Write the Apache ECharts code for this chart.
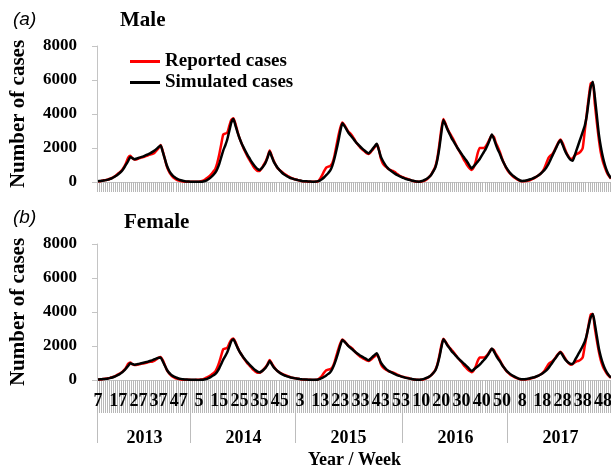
<!DOCTYPE html>
<html lang="en">
<head>
    <meta charset="UTF-8">
    <title>Male / Female cases</title>
    <style>
        html, body { margin: 0; padding: 0; background: #fff; }
    </style>
</head>
<body>
<div id="main" style="width:611px;height:469px;"></div>
<script src="https://cdn.jsdelivr.net/npm/echarts@6.0.0/dist/echarts.min.js"></script>
<script>
    // weeks: 2013 starts at week 7
    var years = ['2013', '2014', '2015', '2016', '2017'];
    var weeksPerYear = [52, 52, 53, 52, 52];
    var firstWeek = 7;

    // male, simulated (black)
    var simMale = [
        50, 60, 70, 90, 110, 140, 180, 230, 300, 370,
        460, 560, 680, 850, 1050, 1250, 1470, 1400, 1340, 1370,
        1410, 1450, 1490, 1540, 1590, 1640, 1700, 1770, 1850, 1950,
        2060, 2150, 1800, 1400, 1000, 720, 520, 380, 280, 200,
        140, 100, 70, 50, 35, 25, 20, 15, 12, 10,
        10, 15, 30, 60, 110, 190, 290, 400, 540, 750,
        1050, 1450, 1850, 2150, 2500, 3000, 3500, 3700, 3350, 2950,
        2600, 2300, 2050, 1820, 1600, 1400, 1200, 1030, 880, 760,
        700, 800, 950, 1150, 1450, 1800, 1500, 1200, 1000, 820,
        680, 560, 460, 380, 310, 250, 210, 170, 140, 110,
        85, 65, 50, 40, 30, 25, 20, 20, 25, 50,
        100, 180, 280, 400, 530, 680, 950, 1350, 1850, 2400,
        3000, 3450, 3300, 3100, 2900, 2750, 2600, 2450, 2300, 2180,
        2060, 1950, 1850, 1750, 1680, 1800, 1950, 2100, 2250, 1900,
        1500, 1250, 1050, 880, 760, 660, 570, 490, 420, 360,
        300, 250, 200, 160, 130, 100, 70, 45, 25, 20,
        40, 80, 140, 210, 300, 430, 620, 850, 1300, 2000,
        2900, 3650, 3400, 3100, 2850, 2600, 2400, 2200, 2000, 1820,
        1650, 1480, 1320, 1150, 950, 800, 920, 1050, 1200, 1350,
        1550, 1750, 1950, 2200, 2500, 2800, 2550, 2200, 1900, 1650,
        1350, 1100, 880, 700, 540, 420, 320, 230, 150, 90,
        60, 70, 90, 120, 160, 200, 250, 310, 380, 470,
        580, 700, 850, 1050, 1300, 1550, 1800, 2050, 2300, 2450,
        2200, 1900, 1650, 1450, 1300, 1250, 1550, 1900, 2250, 2600,
        2950, 3300, 3900, 4800, 5600, 5900, 5000, 3900, 2800, 2050,
        1450, 1000, 650, 400, 220
    ];

    // male, reported (red)
    var repMale = [
        40, 50, 70, 100, 120, 150, 190, 240, 310, 400,
        500, 600, 720, 900, 1150, 1450, 1550, 1400, 1330, 1330,
        1380, 1420, 1460, 1480, 1530, 1590, 1620, 1650, 1720, 1850,
        2000, 2180, 1850, 1400, 950, 650, 450, 300, 200, 130,
        80, 50, 30, 20, 15, 15, 10, 10, 10, 15,
        20, 40, 80, 150, 230, 330, 450, 600, 750, 1100,
        1600, 2200, 2800, 2850, 2900, 3300, 3650, 3750, 3450, 3000,
        2600, 2300, 2000, 1750, 1500, 1300, 1100, 900, 750, 650,
        650, 800, 1000, 1200, 1500, 1850, 1550, 1250, 1000, 800,
        700, 600, 500, 420, 350, 280, 220, 180, 150, 110,
        80, 50, 40, 30, 20, 15, 10, 10, 20, 50,
        200, 400, 650, 850, 900, 950, 1100, 1500, 2100, 2700,
        3200, 3500, 3350, 3150, 2950, 2850, 2700, 2500, 2300, 2150,
        2000, 1900, 1800, 1700, 1650, 1750, 1900, 2050, 2200, 1950,
        1400, 1100, 950, 850, 750, 700, 650, 580, 480, 400,
        330, 280, 230, 200, 160, 100, 60, 30, 15, 10,
        20, 50, 100, 180, 300, 450, 650, 900, 1400, 2200,
        3100, 3700, 3450, 3150, 2900, 2700, 2500, 2250, 2000, 1800,
        1600, 1350, 1150, 950, 800, 700, 850, 1200, 1700, 2000,
        2000, 2000, 2100, 2300, 2550, 2750, 2650, 2300, 2050, 1750,
        1400, 1100, 850, 650, 500, 380, 280, 200, 120, 70,
        40, 40, 60, 80, 120, 170, 230, 300, 380, 480,
        600, 800, 1100, 1400, 1550, 1650, 1850, 2100, 2350, 2500,
        2300, 2000, 1700, 1500, 1350, 1400, 1550, 1650, 1700, 1800,
        2000, 3000, 4000, 5000, 5800, 5850, 4600, 3500, 2500, 1700,
        1200, 850, 550, 350, 200
    ];

    // female, simulated (black)
    var simFemale = [
        30, 40, 50, 60, 70, 90, 120, 150, 190, 240,
        300, 370, 450, 560, 700, 840, 980, 940, 900, 920,
        940, 970, 1000, 1030, 1060, 1090, 1130, 1170, 1220, 1270,
        1300, 1330, 1120, 870, 630, 450, 330, 240, 180, 130,
        90, 65, 45, 32, 23, 16, 13, 10, 8, 7,
        7, 10, 20, 40, 70, 120, 190, 260, 350, 490,
        680, 940, 1200, 1400, 1630, 1950, 2280, 2400, 2180, 1920,
        1690, 1500, 1330, 1180, 1040, 910, 780, 670, 570, 490,
        450, 510, 600, 720, 900, 1120, 940, 750, 620, 510,
        420, 350, 290, 240, 195, 160, 135, 110, 90, 70,
        55, 42, 32, 26, 20, 16, 13, 13, 16, 33,
        65, 120, 190, 270, 360, 460, 650, 920, 1260, 1640,
        2050, 2350, 2260, 2130, 1990, 1890, 1790, 1690, 1590, 1510,
        1430, 1360, 1290, 1220, 1160, 1260, 1370, 1480, 1570, 1320,
        1040, 870, 730, 610, 530, 460, 400, 340, 290, 250,
        210, 175, 140, 110, 90, 70, 48, 31, 17, 14,
        26, 53, 93, 140, 200, 285, 410, 560, 860, 1320,
        1910, 2400, 2240, 2040, 1880, 1710, 1580, 1450, 1320, 1200,
        1090, 980, 870, 760, 630, 530, 610, 700, 800, 900,
        1030, 1160, 1300, 1460, 1660, 1860, 1690, 1460, 1260, 1100,
        900, 730, 585, 465, 360, 280, 210, 150, 100, 60,
        40, 46, 60, 80, 105, 135, 165, 205, 250, 310,
        385, 465, 565, 700, 865, 1030, 1200, 1360, 1530, 1630,
        1460, 1270, 1120, 1010, 950, 940, 1130, 1350, 1560, 1770,
        2000, 2250, 2650, 3200, 3700, 3880, 3300, 2570, 1850, 1350,
        960, 660, 430, 265, 145
    ];

    // female, reported (red)
    var repFemale = [
        26, 33, 46, 65, 80, 100, 125, 160, 200, 260,
        330, 400, 480, 600, 760, 960, 1030, 930, 880, 880,
        910, 940, 970, 980, 1010, 1050, 1070, 1090, 1140, 1220,
        1320, 1360, 1180, 900, 610, 420, 290, 195, 130, 85,
        52, 33, 20, 13, 10, 10, 7, 7, 7, 10,
        13, 26, 52, 98, 150, 215, 290, 390, 490, 720,
        1040, 1430, 1820, 1850, 1890, 2150, 2370, 2440, 2240, 1950,
        1690, 1500, 1300, 1140, 980, 850, 720, 590, 490, 420,
        420, 500, 630, 760, 950, 1170, 980, 790, 630, 510,
        440, 380, 320, 270, 225, 180, 140, 115, 95, 70,
        52, 33, 26, 20, 13, 10, 7, 7, 13, 33,
        135, 270, 440, 570, 610, 640, 740, 1010, 1420, 1820,
        2160, 2380, 2280, 2140, 2010, 1940, 1840, 1700, 1560, 1460,
        1360, 1290, 1220, 1160, 1120, 1190, 1290, 1390, 1500, 1330,
        950, 750, 650, 580, 510, 480, 440, 390, 330, 270,
        220, 185, 150, 130, 105, 65, 40, 20, 10, 7,
        13, 33, 65, 120, 195, 290, 420, 590, 910, 1430,
        2020, 2420, 2270, 2070, 1910, 1780, 1650, 1480, 1320, 1190,
        1060, 890, 760, 630, 530, 460, 560, 790, 1120, 1320,
        1320, 1320, 1390, 1520, 1690, 1830, 1760, 1530, 1360, 1160,
        930, 730, 560, 430, 330, 250, 185, 130, 80, 46,
        26, 26, 40, 53, 80, 110, 150, 200, 250, 320,
        400, 530, 730, 930, 1030, 1100, 1230, 1400, 1560, 1660,
        1530, 1330, 1130, 1000, 900, 930, 1030, 1100, 1130, 1200,
        1330, 2000, 2650, 3300, 3850, 3880, 3050, 2320, 1660, 1130,
        800, 560, 365, 230, 130
    ];

    var weeks = [];
    var weekYear = [];
    var yearStart = [];
    var yearMid = [];
    for (var y = 0; y < years.length; y++) {
        var start = y === 0 ? firstWeek : 1;
        yearStart.push(weeks.length);
        var n = weeksPerYear[y] - start + 1;
        yearMid.push(weeks.length + Math.floor(n / 2));
        for (var w = start; w <= weeksPerYear[y]; w++) {
            weeks.push(String(w));
            weekYear.push(years[y]);
        }
    }

    var serif = 'Liberation Serif';
    var tickGray = '#b8b8b8';

    function yAxisFor(grid) {
        return {
            type: 'value',
            gridIndex: grid,
            min: 0,
            max: 8000,
            interval: 2000,
            name: 'Number of cases',
            nameLocation: 'middle',
            nameGap: 68,
            nameTextStyle: {fontFamily: serif, fontWeight: 'bold', fontSize: 21, color: '#000'},
            axisLine: {show: true, lineStyle: {color: '#c4c4c4', width: 1}},
            axisTick: {show: true, length: 5, lineStyle: {color: '#c4c4c4'}},
            axisLabel: {
                formatter: function (v) { return String(v); },
                fontFamily: serif, fontWeight: 'bold', fontSize: 17, color: '#000', margin: 20
            },
            splitLine: {show: false}
        };
    }

    function lineSeries(name, data, color, width, axisIdx, z) {
        return {
            name: name,
            type: 'line',
            xAxisIndex: axisIdx,
            yAxisIndex: axisIdx,
            data: data,
            showSymbol: false,
            symbol: 'none',
            smooth: 0.2,
            z: z,
            lineStyle: {color: color, width: width},
            itemStyle: {color: color}
        };
    }

    var chart = echarts.init(document.getElementById('main'));
    var option = {
        animation: false,
        backgroundColor: '#fff',
        grid: [
            {left: 97, top: 46, width: 515, height: 136, outerBoundsMode: 'none'},
            {left: 97, top: 244, width: 515, height: 136, outerBoundsMode: 'none'}
        ],
        legend: {
            orient: 'vertical',
            left: 125,
            top: 47,
            itemWidth: 30,
            itemHeight: 3,
            itemGap: 2,
            icon: 'rect',
            data: ['Reported cases', 'Simulated cases'],
            textStyle: {fontFamily: serif, fontWeight: 'bold', fontSize: 19, color: '#000'}
        },
        graphic: [
            {type: 'text', left: 13, top: 10, style: {text: '(a)', font: 'italic 19px "Liberation Sans"', fill: '#000'}},
            {type: 'text', left: 120, top: 10, style: {text: 'Male', font: 'bold 21px "Liberation Serif"', fill: '#000'}},
            {type: 'text', left: 13, top: 208, style: {text: '(b)', font: 'italic 19px "Liberation Sans"', fill: '#000'}},
            {type: 'text', left: 124, top: 212, style: {text: 'Female', font: 'bold 21px "Liberation Serif"', fill: '#000'}}
        ],
        xAxis: [
            {
                type: 'category',
                gridIndex: 0,
                data: weeks,
                boundaryGap: true,
                axisLine: {show: true, lineStyle: {color: '#c4c4c4'}},
                axisTick: {show: true, interval: 0, length: 10, lineStyle: {color: tickGray, width: 1}},
                axisLabel: {show: false}
            },
            {
                type: 'category',
                gridIndex: 1,
                data: weeks,
                boundaryGap: true,
                axisLine: {show: true, lineStyle: {color: '#c4c4c4'}},
                axisTick: {show: true, interval: 0, length: 33, lineStyle: {color: tickGray, width: 1}},
                axisLabel: {
                    interval: function (i) { return i % 10 === 0; },
                    fontFamily: serif, fontWeight: 'bold', fontSize: 18, color: '#000', margin: 12
                }
            },
            {
                type: 'category',
                gridIndex: 1,
                data: weeks,
                boundaryGap: true,
                position: 'bottom',
                offset: 33,
                name: 'Year / Week',
                nameLocation: 'middle',
                nameGap: 38,
                nameTextStyle: {fontFamily: serif, fontWeight: 'bold', fontSize: 18, color: '#000'},
                axisLine: {show: false},
                axisTick: {
                    show: true,
                    interval: function (i) { return yearStart.indexOf(i) >= 0; },
                    length: 30,
                    lineStyle: {color: '#bdbdbd', width: 1}
                },
                axisLabel: {
                    interval: function (i) { return yearMid.indexOf(i) >= 0; },
                    formatter: function (v, i) { return weekYear[i]; },
                    fontFamily: serif, fontWeight: 'bold', fontSize: 18, color: '#000', margin: 16
                }
            }
        ],
        yAxis: [yAxisFor(0), yAxisFor(1)],
        series: [
            lineSeries('Reported cases', repMale, '#ff0000', 2.5, 0, 2),
            lineSeries('Simulated cases', simMale, '#000000', 2.5, 0, 3),
            lineSeries('Reported cases', repFemale, '#ff0000', 2.5, 1, 2),
            lineSeries('Simulated cases', simFemale, '#000000', 2.5, 1, 3)
        ]
    };
    chart.setOption(option);
</script>
</body>
</html>
